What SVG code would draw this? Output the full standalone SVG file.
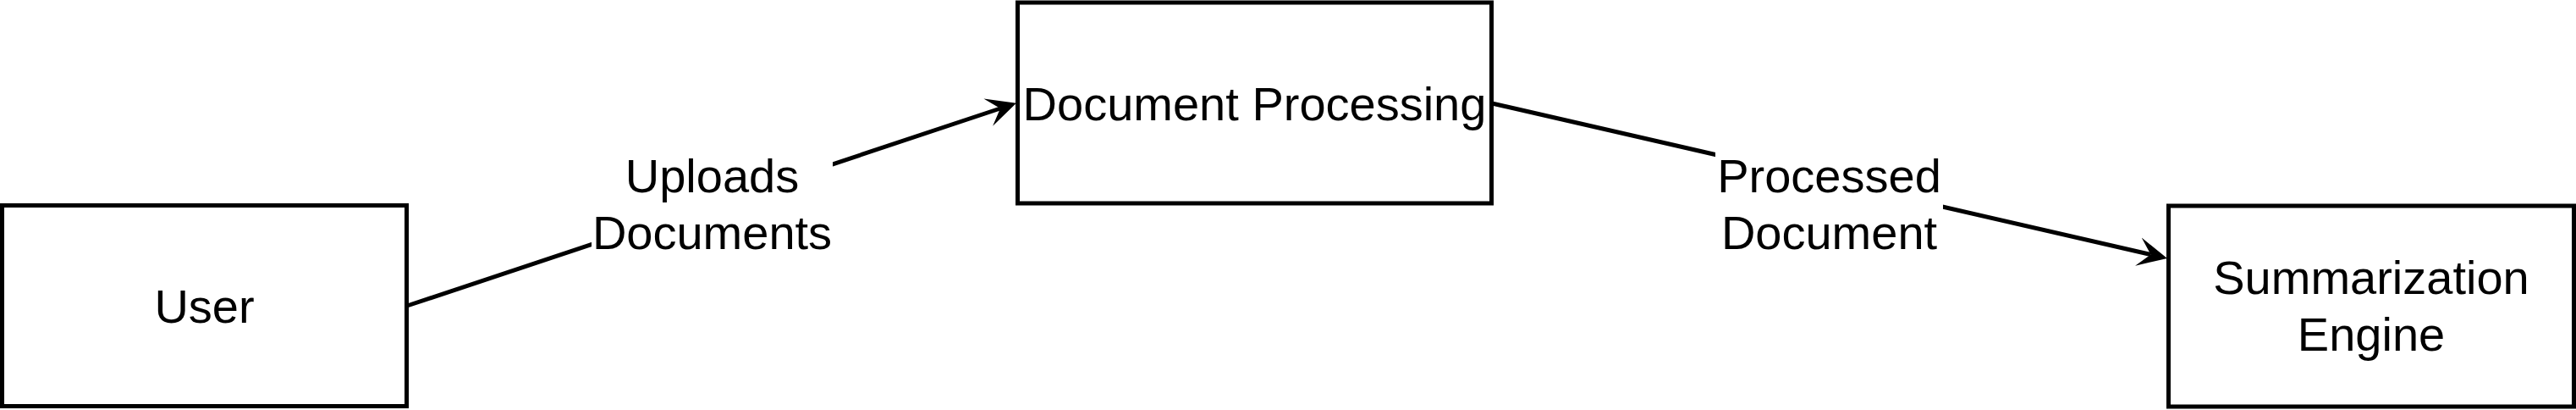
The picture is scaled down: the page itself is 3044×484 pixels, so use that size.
<svg xmlns="http://www.w3.org/2000/svg" width="3044" height="484" viewBox="0 0 3044 484">
<style>
.box{fill:#ffffff;stroke:#000000;stroke-width:5}
.t{font-family:"Liberation Sans",Arial,sans-serif;font-size:56px;fill:#000000;text-anchor:middle}
.edge{fill:none;stroke:#000000;stroke-width:5}
.lblbg{fill:#ffffff;stroke:none}
</style>
<defs>
<marker id="arrow" markerUnits="userSpaceOnUse" viewBox="0 -18 36 36" markerWidth="36" markerHeight="36" refX="15" refY="0" orient="auto">
<path d="M35,0 L0,-17 L15,0 L0,17 Z" fill="#000000"/>
</marker>
</defs>
<g id="connectors">
<g id="edge-upload">
<path class="edge" d="M481,361 L1182,128" marker-end="url(#arrow)"/>
<rect class="lblbg" x="699" y="176" width="285" height="130"/>
<text class="t" x="841.5" y="227">Uploads</text>
<text class="t" x="841.5" y="294">Documents</text>
</g>
<g id="edge-processed">
<path class="edge" d="M1762,121.7 L2541.5,300.5" marker-end="url(#arrow)"/>
<rect class="lblbg" x="2027" y="176" width="269" height="130"/>
<text class="t" x="2161.5" y="227">Processed</text>
<text class="t" x="2161.5" y="294">Document</text>
</g>
</g>
<g id="node-user">
<rect class="box" x="2.5" y="242.5" width="478" height="237"/>
<text class="t" x="241.5" y="381">User</text>
</g>
<g id="node-docproc">
<rect class="box" x="1202.5" y="3" width="560" height="237"/>
<text class="t" x="1482.5" y="141.5">Document Processing</text>
</g>
<g id="node-summ">
<rect class="box" x="2562.5" y="243" width="479" height="237"/>
<text class="t" x="2802" y="347">Summarization</text>
<text class="t" x="2802" y="414">Engine</text>
</g>
</svg>
